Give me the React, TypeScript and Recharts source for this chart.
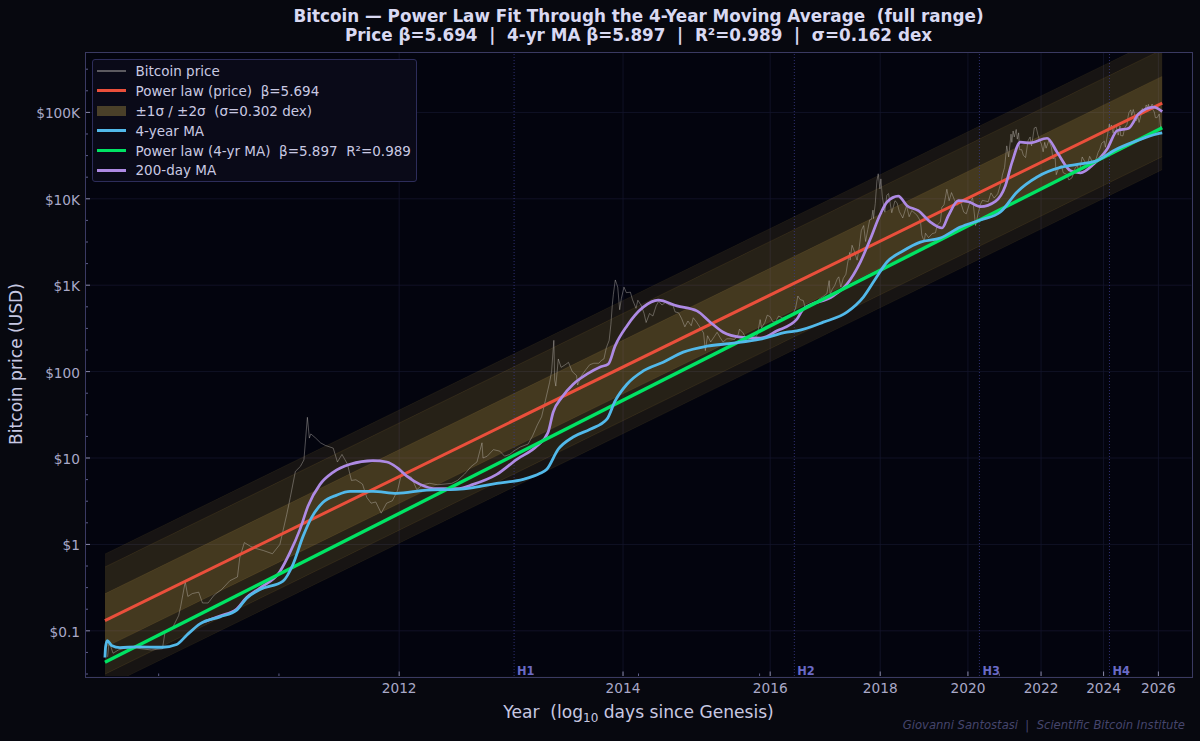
import React from "react";
import {
  ComposedChart, Line, Area, XAxis, YAxis, CartesianGrid, ReferenceLine, Legend,
} from "recharts";

const FONT = "'DejaVu Sans', sans-serif";
const FIG_BG = "#07080f";
const PLOT_BG = "#03040e";
const GENESIS = Date.UTC(2009, 0, 3);
const toLogDays = (date: string) =>
  Math.log10((Date.parse(date + "T00:00:00Z") - GENESIS) / 86400000);

// Year ticks: [label, date]
const yearTicks: [string, string][] = [
  ["2012", "2012-01-01"], ["2014", "2014-01-01"], ["2016", "2016-01-01"], ["2018", "2018-01-01"],
  ["2020", "2020-01-01"], ["2022", "2022-01-01"], ["2024", "2024-01-01"], ["2026", "2026-01-01"],
];
const minorXTicks = [2.7997, 2.9192, 3.2764, 3.3967, 3.6349];
// Halving markers: [label, log10 days]
const halvings: [string, number][] = [
  ["H1", 3.1528], ["H2", 3.4312], ["H3", 3.6151], ["H4", 3.7443],
];
const yDecadeLabels: [number, string][] = [
  [0.1, "$0.1"], [1, "$1"], [10, "$10"], [100, "$100"], [1000, "$1K"], [10000, "$10K"], [100000, "$100K"],
];
const yQuarterExponents = [
  -1.5, -1.25, -0.75, -0.5, -0.25, 0.25, 0.5, 0.75, 1.25, 1.5, 1.75, 2.25, 2.5, 2.75,
  3.25, 3.5, 3.75, 4.25, 4.5, 4.75, 5.25, 5.5,
];

// Fit lines and bands: each is straight on log-log axes, so ends are enough
const fitX = [2.7463, 3.7967];
const powerLawPrice = [0.1315, 128000];
const powerLaw4yr = [0.0433, 66600];
const band1Low = [0.0644, 62700];
const band1High = [0.2685, 261000];
const band2Low = [0.0315, 30700];
const band2High = [0.548, 533000];
const band3Low = [0.0223, 21700];
const band3High = [0.774, 753000];

// Bitcoin price [date, USD]
const pricePoints: [string, number][] = [
  ["2010-07-18",0.05],["2010-07-20",0.075],["2010-07-25",0.055],["2010-08-01",0.06],["2010-08-15",0.065],["2010-09-01",0.062],["2010-09-15",0.06],["2010-10-01",0.062],["2010-10-05",0.1],["2010-10-15",0.105],["2010-10-25",0.15],["2010-10-28",0.19],["2010-11-04",0.37],["2010-11-08",0.25],["2010-11-15",0.27],["2010-11-25",0.28],["2010-12-01",0.21],["2010-12-10",0.21],["2010-12-20",0.26],
  ["2011-01-01",0.3],["2011-01-15",0.38],["2011-01-28",0.42],["2011-02-01",0.7],["2011-02-09",1.05],["2011-02-20",0.95],["2011-03-01",0.9],["2011-03-15",0.85],["2011-04-01",0.78],["2011-04-15",1],["2011-04-28",2.2],["2011-05-05",3.5],["2011-05-15",7],["2011-05-25",8],["2011-06-01",9.5],["2011-06-08",29.6],["2011-06-12",17],["2011-06-15",19],["2011-06-25",17],["2011-07-05",15],["2011-07-15",14],["2011-08-01",13],["2011-08-10",9],["2011-08-20",11],["2011-09-01",8.5],["2011-09-10",5.5],["2011-09-20",5.6],["2011-10-05",5],["2011-10-15",3.5],["2011-10-25",3],["2011-11-05",3.1],["2011-11-18",2.3],["2011-12-01",3],["2011-12-15",3.2],["2011-12-28",4.2],
  ["2012-01-08",7],["2012-01-20",6.3],["2012-02-01",6],["2012-02-15",4.3],["2012-03-01",4.9],["2012-03-20",5.1],["2012-04-10",4.9],["2012-05-01",5],["2012-05-20",5.1],["2012-06-05",5.5],["2012-06-25",6.5],["2012-07-15",8],["2012-08-01",9],["2012-08-16",15],["2012-08-19",10],["2012-09-01",10.5],["2012-09-20",12.5],["2012-10-10",12],["2012-10-25",10.5],["2012-11-10",11],["2012-11-28",12.3],["2012-12-15",13.4],
  ["2013-01-10",14.5],["2013-01-25",18],["2013-02-10",24],["2013-02-25",30],["2013-03-10",46],["2013-03-25",75],["2013-04-01",100],["2013-04-09",230],["2013-04-12",80],["2013-04-16",68],["2013-04-25",140],["2013-05-05",112],["2013-05-20",120],["2013-06-01",128],["2013-06-15",100],["2013-07-01",90],["2013-07-05",70],["2013-07-20",90],["2013-08-05",105],["2013-08-20",120],["2013-09-05",125],["2013-09-25",125],["2013-10-05",135],["2013-10-15",140],["2013-10-25",190],["2013-11-05",230],["2013-11-12",350],["2013-11-18",600],["2013-11-22",780],["2013-11-30",1150],["2013-12-05",1050],["2013-12-10",950],["2013-12-18",520],["2013-12-25",700],
  ["2014-01-05",950],["2014-01-15",820],["2014-02-01",830],["2014-02-10",680],["2014-02-25",540],["2014-03-05",670],["2014-03-20",580],["2014-04-01",470],["2014-04-10",370],["2014-04-25",470],["2014-05-10",440],["2014-05-25",580],["2014-06-05",650],["2014-06-20",590],["2014-07-05",630],["2014-07-25",590],["2014-08-10",580],["2014-08-20",490],["2014-09-05",480],["2014-09-20",410],["2014-10-05",330],["2014-10-20",385],["2014-11-05",340],["2014-11-15",420],["2014-12-01",375],["2014-12-20",320],
  ["2015-01-05",280],["2015-01-14",175],["2015-01-25",260],["2015-02-10",220],["2015-03-01",255],["2015-03-15",285],["2015-04-01",245],["2015-04-15",220],["2015-05-05",240],["2015-05-25",240],["2015-06-15",235],["2015-07-05",270],["2015-07-12",310],["2015-08-01",280],["2015-08-20",230],["2015-09-10",240],["2015-10-01",237],["2015-10-20",270],["2015-11-04",400],["2015-11-12",320],["2015-12-01",370],["2015-12-15",450],
  ["2016-01-01",432],["2016-01-15",380],["2016-02-01",375],["2016-02-20",440],["2016-03-15",415],["2016-04-20",445],["2016-05-15",455],["2016-06-01",535],["2016-06-16",750],["2016-07-01",680],["2016-07-20",665],["2016-08-02",540],["2016-08-20",580],["2016-09-15",610],["2016-10-10",615],["2016-10-25",680],["2016-11-10",715],["2016-12-01",750],["2016-12-20",800],
  ["2017-01-04",1130],["2017-01-11",780],["2017-01-25",900],["2017-02-10",990],["2017-02-28",1190],["2017-03-10",1250],["2017-03-24",950],["2017-04-10",1200],["2017-04-28",1340],["2017-05-10",1800],["2017-05-25",2400],["2017-05-27",1950],["2017-06-10",2900],["2017-06-25",2500],["2017-07-16",1950],["2017-08-01",2800],["2017-08-15",4300],["2017-09-01",4900],["2017-09-15",3200],["2017-10-01",4400],["2017-10-15",5700],["2017-10-28",5800],["2017-11-08",7400],["2017-11-12",5900],["2017-11-25",8800],["2017-12-07",16000],["2017-12-17",19500],["2017-12-30",13000],
  ["2018-01-06",17000],["2018-01-17",10500],["2018-02-05",7000],["2018-02-20",11000],["2018-03-05",11500],["2018-03-30",6900],["2018-04-24",9500],["2018-05-10",9000],["2018-05-28",7100],["2018-06-24",6000],["2018-07-24",8300],["2018-08-14",6200],["2018-09-04",7300],["2018-10-15",6500],["2018-11-14",5500],["2018-11-25",3800],["2018-12-15",3200],["2018-12-25",4000],
  ["2019-01-20",3550],["2019-02-20",3950],["2019-03-20",4050],["2019-04-03",4950],["2019-05-01",5400],["2019-05-14",8000],["2019-06-01",8500],["2019-06-26",12900],["2019-07-16",9500],["2019-08-06",11800],["2019-09-01",9700],["2019-09-25",8400],["2019-10-25",9300],["2019-11-24",7000],["2019-12-17",6700],
  ["2020-01-15",8800],["2020-02-13",10300],["2020-03-12",4900],["2020-04-05",6800],["2020-04-30",8800],["2020-05-15",9600],["2020-06-15",9400],["2020-07-10",9250],["2020-08-05",11700],["2020-09-05",10200],["2020-10-10",11400],["2020-10-25",13100],["2020-11-15",16000],["2020-11-25",18800],["2020-12-17",23000],
  ["2021-01-08",41000],["2021-01-27",30500],["2021-02-20",56000],["2021-02-28",45000],["2021-03-13",61000],["2021-03-25",52000],["2021-04-14",63500],["2021-04-25",49000],["2021-05-09",58000],["2021-05-19",37000],["2021-06-10",37000],["2021-06-26",32000],["2021-07-20",30000],["2021-08-15",47000],["2021-09-06",52000],["2021-09-21",41000],["2021-10-20",66000],["2021-11-09",67500],["2021-11-28",55000],["2021-12-15",48000],
  ["2022-01-05",43000],["2022-01-24",35000],["2022-02-10",45000],["2022-02-25",38500],["2022-03-28",47500],["2022-04-25",39500],["2022-05-12",29000],["2022-06-05",30000],["2022-06-18",19000],["2022-07-20",23500],["2022-08-15",24300],["2022-09-05",20000],["2022-10-15",19200],["2022-11-09",16500],["2022-12-15",17500],
  ["2023-01-20",22500],["2023-02-15",24500],["2023-03-10",20000],["2023-04-14",30500],["2023-05-15",27000],["2023-06-15",25000],["2023-07-13",31000],["2023-08-17",26500],["2023-09-11",25200],["2023-10-25",34500],["2023-11-15",37500],["2023-12-08",44000],
  ["2024-01-11",46500],["2024-01-23",39500],["2024-02-15",52000],["2024-03-14",73500],["2024-03-20",62500],["2024-04-08",71500],["2024-05-01",57500],["2024-05-20",71000],["2024-06-07",70000],["2024-07-05",54500],["2024-07-29",69500],["2024-08-05",54000],["2024-09-06",53500],["2024-09-27",66000],["2024-10-29",73000],["2024-11-13",91000],["2024-11-22",99000],["2024-12-05",103000],["2024-12-17",107000],["2024-12-30",92500],
  ["2025-01-20",108000],["2025-02-03",97000],["2025-02-28",80000],["2025-03-25",88000],["2025-04-08",76500],["2025-05-05",94000],["2025-05-22",111000],["2025-06-22",100000],["2025-07-14",122000],["2025-08-02",113000],["2025-08-14",124000],["2025-09-01",108000],["2025-09-18",117000],["2025-10-06",125000],["2025-10-10",110000],["2025-11-04",101000],["2025-11-20",87000],["2025-12-15",87000],
  ["2026-01-14",96000],["2026-02-05",63000],["2026-02-10",69000],
];

// 4-year MA: [log10 days, log10 USD]
const ma4yr: [number, number][] = [
  [2.7463,-1.309],[2.747,-1.182],[2.7486,-1.113],[2.7529,-1.17],[2.7612,-1.194],[2.7778,-1.186],[2.8039,-1.19],[2.8175,-1.159],[2.8275,-1.051],[2.8407,-0.919],[2.8606,-0.838],[2.8772,-0.761],[2.8871,-0.622],[2.9003,-0.522],[2.9232,-0.425],[2.9331,-0.232],[2.9431,0.093],[2.9517,0.313],[2.963,0.487],[2.9766,0.571],[2.9898,0.614],[3.0127,0.614],[3.0362,0.591],[3.0661,0.629],[3.0959,0.637],[3.1121,0.657],[3.1356,0.707],[3.1618,0.753],[3.1787,0.823],[3.1853,0.869],[3.1966,1.101],[3.2115,1.243],[3.2284,1.333],[3.245,1.449],[3.2532,1.661],[3.2649,1.854],[3.2811,2.008],[3.3009,2.109],[3.3208,2.225],[3.3444,2.294],[3.3705,2.329],[3.3974,2.375],[3.4239,2.457],[3.4338,2.472],[3.46,2.572],[3.4835,2.688],[3.4998,2.862],[3.5117,3.071],[3.5233,3.268],[3.5395,3.399],[3.5564,3.499],[3.5763,3.546],[3.5962,3.673],[3.6161,3.754],[3.636,3.847],[3.6525,4.079],[3.6724,4.253],[3.6956,4.363],[3.7155,4.403],[3.7321,4.442],[3.7483,4.557],[3.7718,4.673],[3.7917,4.751],[3.7967,4.763],
];

// 200-day MA: [log10 days, log10 USD]
const ma200d: [number, number][] = [
  [2.8457,-0.892],[2.8606,-0.829],[2.8772,-0.747],[2.8871,-0.614],[2.9003,-0.504],[2.9202,-0.313],[2.9302,-0.093],[2.9401,0.174],[2.9481,0.444],[2.96,0.695],[2.9729,0.834],[2.9898,0.927],[3.0127,0.97],[3.0263,0.954],[3.0362,0.892],[3.0462,0.791],[3.0594,0.695],[3.076,0.645],[3.0959,0.645],[3.1121,0.695],[3.1356,0.811],[3.1555,0.985],[3.1754,1.139],[3.1866,1.298],[3.1916,1.53],[3.2003,1.703],[3.2115,1.854],[3.2251,1.97],[3.2383,2.054],[3.2463,2.086],[3.2532,2.298],[3.2649,2.529],[3.2811,2.746],[3.296,2.827],[3.3146,2.761],[3.3344,2.703],[3.3477,2.572],[3.3606,2.456],[3.3775,2.399],[3.3974,2.387],[3.414,2.472],[3.4338,2.607],[3.4401,2.723],[3.4699,2.877],[3.4835,3.013],[3.4968,3.268],[3.5067,3.534],[3.5167,3.824],[3.5233,3.963],[3.5345,4.032],[3.5432,3.92],[3.5544,3.862],[3.5664,3.731],[3.578,3.662],[3.5842,3.804],[3.5942,3.978],[3.6041,3.966],[3.6161,3.909],[3.631,3.971],[3.6409,4.152],[3.6476,4.427],[3.6558,4.655],[3.6658,4.647],[3.6824,4.701],[3.6923,4.539],[3.7055,4.326],[3.7155,4.299],[3.7287,4.403],[3.742,4.577],[3.752,4.789],[3.7635,4.817],[3.7734,4.983],[3.7883,5.06],[3.7967,5.009],
];

const legendLabels = {
  price: "Bitcoin price",
  fit: "Power law (price)  β=5.694",
  band: "±1σ / ±2σ  (σ=0.302 dex)",
  ma4: "4-year MA",
  fit4: "Power law (4-yr MA)  β=5.897  R²=0.989",
  ma200: "200-day MA",
};

const COLORS = {
  price: "#cfcbc4", fit: "#ea4f3b", band: "#cda546", ma4: "#52b9ea", fit4: "#00e364", ma200: "#ae8ae4",
};

const priceData = pricePoints.map(([d, v]) => ({ x: toLogDays(d), y: v }));
const ma4Data = ma4yr.map(([x, l]) => ({ x, y: Math.pow(10, l) }));
const ma200Data = ma200d.map(([x, l]) => ({ x, y: Math.pow(10, l) }));
const fitData = fitX.map((x, i) => ({ x, y: powerLawPrice[i] }));
const fit4Data = fitX.map((x, i) => ({ x, y: powerLaw4yr[i] }));
const bandOf = (lo: number[], hi: number[]) => fitX.map((x, i) => ({ x, r: [lo[i], hi[i]] }));

const yearTickXs = yearTicks.map(([, d]) => toLogDays(d));
const xTicks = [...minorXTicks, ...yearTickXs].sort((a, b) => a - b);
const yMajor = yDecadeLabels.map(([v]) => v);
const yTicks = [...yMajor, ...yQuarterExponents.map((e) => Math.pow(10, e))].sort((a, b) => a - b);

const TICK_MAJOR = "#8a8aa8";
const TICK_MINOR = "#5e5e88";
const LABEL_COLOR = "#a9a9c8";

const XTick = (p: any) => {
  const idx = yearTickXs.findIndex((v) => Math.abs(v - p.payload.value) < 1e-6);
  const major = idx >= 0;
  return (
    <g>
      <line x1={p.x} x2={p.x} y1={676} y2={major ? 671.5 : 673.5} stroke={major ? TICK_MAJOR : TICK_MINOR} strokeWidth={1} />
      {major && (
        <text x={p.x} y={693} textAnchor="middle" fontSize={13.7} fontFamily={FONT} fill={LABEL_COLOR}>
          {yearTicks[idx][0]}
        </text>
      )}
    </g>
  );
};

const YTick = (p: any) => {
  const entry = yDecadeLabels.find(([v]) => Math.abs(v - p.payload.value) < v * 1e-6);
  return (
    <g>
      <line x1={85} x2={entry ? 90 : 88} y1={p.y} y2={p.y} stroke={entry ? TICK_MAJOR : TICK_MINOR} strokeWidth={1} />
      {entry && (
        <text x={80} y={p.y + 6} textAnchor="end" fontSize={13.7} fontFamily={FONT} fill={LABEL_COLOR}>
          {entry[1]}
        </text>
      )}
    </g>
  );
};

const LegendRow = ({ kind, color, text, h }: { kind: string; color: string; text: string; h: number }) => (
  <div style={{ height: 19.9, display: "flex", alignItems: "center" }}>
    <div style={{ width: 29, marginRight: 9.5, display: "flex", justifyContent: "center" }}>
      <div
        style={{
          width: 29, height: kind === "patch" ? 10 : h, background: color,
        }}
      />
    </div>
    <span style={{ whiteSpace: "pre", fontSize: 13.5, color: "#c9c9e2", fontFamily: FONT }}>{text}</span>
  </div>
);

const LegendBox = () => (
  <div
    style={{
      width: 325, height: 123, boxSizing: "border-box", background: "#0a0a18", border: "1px solid #2d2d5a",
      borderRadius: 3, padding: "1px 0 0 4px",
    }}
  >
    <LegendRow kind="line" color="#5c5a60" h={1.2} text={legendLabels.price} />
    <LegendRow kind="line" color={COLORS.fit} h={3} text={legendLabels.fit} />
    <LegendRow kind="patch" color="#4a4029" h={10} text={legendLabels.band} />
    <LegendRow kind="line" color={COLORS.ma4} h={3} text={legendLabels.ma4} />
    <LegendRow kind="line" color={COLORS.fit4} h={3} text={legendLabels.fit4} />
    <LegendRow kind="line" color={COLORS.ma200} h={3} text={legendLabels.ma200} />
  </div>
);

const TITLE_LINE_1 = "Bitcoin — Power Law Fit Through the 4-Year Moving Average  (full range)";
const TITLE_LINE_2 = "Price β=5.694  |  4-yr MA β=5.897  |  R²=0.989  |  σ=0.162 dex";
const CREDIT = "Giovanni Santostasi  |  Scientific Bitcoin Institute";
const Y_TITLE = "Bitcoin price (USD)";

export default function App() {
  return (
    <div style={{ position: "absolute", left: 0, top: 0, width: 1200, height: 741, background: FIG_BG, overflow: "hidden", fontFamily: FONT }}>
      <div style={{ position: "absolute", left: 0, width: 1277, top: 7, textAlign: "center", fontWeight: 700, fontSize: 16.8, lineHeight: "18.5px", color: "#d9d9f2", whiteSpace: "pre" }}>
        {TITLE_LINE_1}
        <br />
        {TITLE_LINE_2}
      </div>
      <ComposedChart
        width={1200}
        height={741}
        margin={{ top: 52, right: 8.5, bottom: 0, left: 0 }}
        style={{ position: "absolute", left: 0, top: 0 }}
      >
        <CartesianGrid
          fill={PLOT_BG}
          stroke="#14152c"
          strokeWidth={0.8}
          horizontalValues={yMajor}
          verticalValues={yearTickXs}
        />
        <XAxis
          dataKey="x"
          type="number"
          domain={[2.7265, 3.8258]}
          allowDataOverflow
          ticks={xTicks}
          interval={0}
          height={65}
          axisLine={false}
          tickLine={false}
          tick={<XTick />}
        />
        <YAxis
          type="number"
          scale="log"
          domain={[0.03, 500000]}
          allowDataOverflow
          ticks={yTicks}
          interval={0}
          width={85}
          axisLine={false}
          tickLine={false}
          tick={<YTick />}
        />
        <Area data={bandOf(band3Low, band3High)} dataKey="r" type="linear" fill={COLORS.band} fillOpacity={0.1} stroke={COLORS.band} strokeOpacity={0.07} strokeWidth={1} isAnimationActive={false} dot={false} activeDot={false} />
        <Area data={bandOf(band2Low, band2High)} dataKey="r" type="linear" fill={COLORS.band} fillOpacity={0.09} stroke={COLORS.band} strokeOpacity={0.1} strokeWidth={1} isAnimationActive={false} dot={false} activeDot={false} />
        <Area data={bandOf(band1Low, band1High)} dataKey="r" type="linear" fill={COLORS.band} fillOpacity={0.18} stroke={COLORS.band} strokeOpacity={0.12} strokeWidth={1} isAnimationActive={false} dot={false} activeDot={false} />
        {halvings.map(([name, x]) => (
          <ReferenceLine
            key={name}
            x={x}
            stroke="#3b3b8c"
            strokeOpacity={0.8}
            strokeWidth={1}
            strokeDasharray="1 2"
            label={{ value: name, position: "insideBottomLeft", offset: 3, dy: 2, fill: "#6a6ac6", fontSize: 11.4, fontWeight: 700, fontFamily: FONT }}
          />
        ))}
        <Line data={priceData} dataKey="y" type="linear" stroke={COLORS.price} strokeOpacity={0.38} strokeWidth={1} dot={false} activeDot={false} isAnimationActive={false} />
        <Line data={fitData} dataKey="y" type="linear" stroke={COLORS.fit} strokeWidth={3} dot={false} activeDot={false} isAnimationActive={false} />
        <Line data={ma200Data} dataKey="y" type="monotone" stroke={COLORS.ma200} strokeWidth={2.7} dot={false} activeDot={false} isAnimationActive={false} />
        <Line data={fit4Data} dataKey="y" type="linear" stroke={COLORS.fit4} strokeWidth={3.4} dot={false} activeDot={false} isAnimationActive={false} />
        <Line data={ma4Data} dataKey="y" type="monotone" stroke={COLORS.ma4} strokeWidth={2.8} dot={false} activeDot={false} isAnimationActive={false} />
        <Legend
          layout="vertical"
          align="center"
          verticalAlign="middle"
          content={<LegendBox />}
          wrapperStyle={{ position: "absolute", left: 92, top: 59, width: 325, height: 123, margin: 0 }}
        />
      </ComposedChart>
      <div style={{ position: "absolute", left: 85, top: 52, width: 1105.5, height: 623.5, border: "1px solid #3a3a62", boxSizing: "content-box", pointerEvents: "none" }} />
      <div style={{ position: "absolute", left: 0, width: 1277, top: 702, textAlign: "center", fontSize: 17.1, color: "#c8c8e2", whiteSpace: "pre" }}>
        Year  (log<sub style={{ fontSize: 12, lineHeight: 0 }}>10</sub> days since Genesis)
      </div>
      <div style={{ position: "absolute", left: 15.5, top: 364, transform: "translate(-50%,-50%) rotate(-90deg)", fontSize: 17.1, color: "#c8c8e2", whiteSpace: "pre" }}>
        {Y_TITLE}
      </div>
      <div style={{ position: "absolute", right: 15, top: 718, fontSize: 11.6, fontStyle: "italic", color: "#45456c", whiteSpace: "pre" }}>
        {CREDIT}
      </div>
    </div>
  );
}
